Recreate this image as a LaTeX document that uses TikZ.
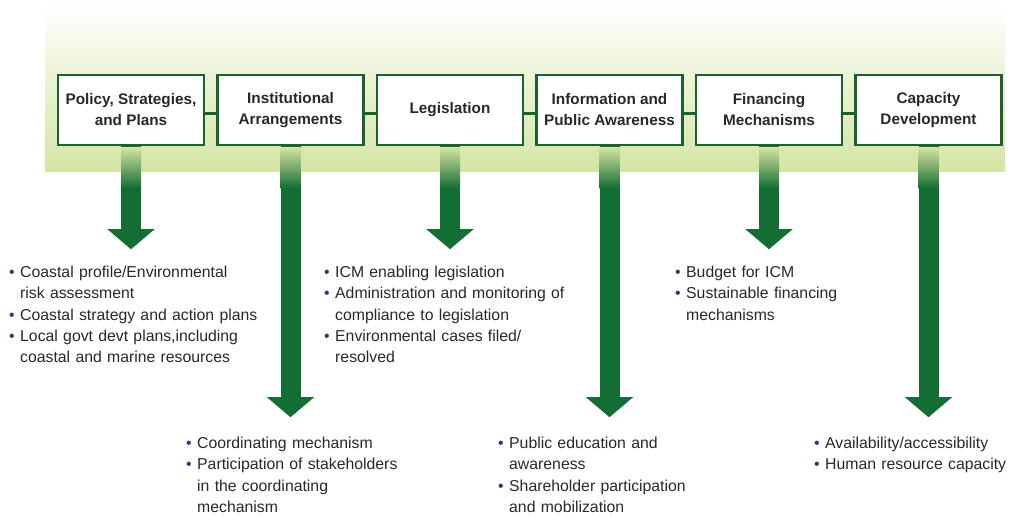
\documentclass[tikz,border=0pt]{standalone}
\usepackage{fontspec}
\setmainfont{Liberation Sans}
\usepackage{xcolor}
\usetikzlibrary{arrows.meta,positioning,calc,backgrounds}

\definecolor{bandgreen}{RGB}{212,229,162}
\definecolor{boxgreen}{RGB}{28,96,48}
\definecolor{arrowgreen}{RGB}{18,110,50}
\definecolor{bulletblue}{RGB}{45,55,125}
\definecolor{textgray}{RGB}{40,40,40}

% bullet line with hanging indent
\newcommand{\bitem}[1]{\par\hangindent=11pt\hangafter=1\noindent\makebox[11pt][l]{\textcolor{bulletblue}{\textbullet}}#1}
\newcommand{\nl}{\hfil\break}

\begin{document}
\begin{tikzpicture}[
  x=1pt, y=1pt,
  node distance=11pt,
  areabox/.style={draw=boxgreen, line width=2.5pt, fill=white, minimum width=146pt, minimum height=70pt,
    align=center, inner sep=2pt, font=\fontsize{15.3}{21}\selectfont\bfseries, text=textgray},
  link/.style={draw=boxgreen, line width=3pt},
  bigarr/.style={draw=arrowgreen, line width=20pt, -{Triangle[width=46pt,length=20pt]}},
  textblock/.style={anchor=north west, inner sep=0pt, text width=250pt,
    font=\fontsize{15.8}{21.3}\selectfont\raggedright, text=textgray}
]
\useasboundingbox (0,0) rectangle (1012,518);

% the six areas
\node[areabox] (b1) at (131,408) {Policy, Strategies,\\and Plans};
\node[areabox, right=of b1] (b2) {Institutional\\Arrangements};
\node[areabox, right=of b2] (b3) {Legislation};
\node[areabox, right=of b3] (b4) {Information and\\Public Awareness};
\node[areabox, right=of b4] (b5) {Financing\\Mechanisms};
\node[areabox, right=of b5] (b6) {Capacity\\Development};

\foreach \a/\b in {b1/b2,b2/b3,b3/b4,b4/b5,b5/b6}
  \draw[link] ([yshift=-4pt]\a.east) -- ([yshift=-4pt]\b.west);

% what each area covers
\node[textblock] (c1) at (9,262) {%
  \bitem{Coastal profile/Environmental\nl risk assessment}
  \bitem{Coastal strategy and action plans}
  \bitem{Local govt devt plans,including\nl coastal and marine resources}\par};
\node[textblock] (c3) at (324,262) {%
  \bitem{ICM enabling legislation}
  \bitem{Administration and monitoring of\nl compliance to legislation}
  \bitem{Environmental cases filed/\nl resolved}\par};
\node[textblock] (c5) at (675,262) {%
  \bitem{Budget for ICM}
  \bitem{Sustainable financing\nl mechanisms}\par};
\node[textblock] (c2) at (186,91) {%
  \bitem{Coordinating mechanism}
  \bitem{Participation of stakeholders\nl in the coordinating\nl mechanism}\par};
\node[textblock] (c4) at (498,91) {%
  \bitem{Public education and\nl awareness}
  \bitem{Shareholder participation\nl and mobilization}\par};
\node[textblock] (c6) at (814,91) {%
  \bitem{Availability/accessibility}
  \bitem{Human resource capacity}\par};

\begin{scope}[on background layer]
  % green band behind the boxes
  \shade[top color=white, middle color=bandgreen!55, bottom color=bandgreen]
    (45,516) rectangle (1005,346);
  \foreach \i/\len in {1/103,2/271,3/103,4/271,5/103,6/271} {
    \coordinate (t\i) at ($(b\i.south)+(0,-\len)$);
    \draw[bigarr] (b\i.south) -- (t\i);
    \shade[top color=bandgreen, bottom color=arrowgreen]
      ($(b\i.south)+(-10,-1)$) rectangle ($(b\i.south)+(10,-42)$);
  }
\end{scope}
\end{tikzpicture}
\end{document}
